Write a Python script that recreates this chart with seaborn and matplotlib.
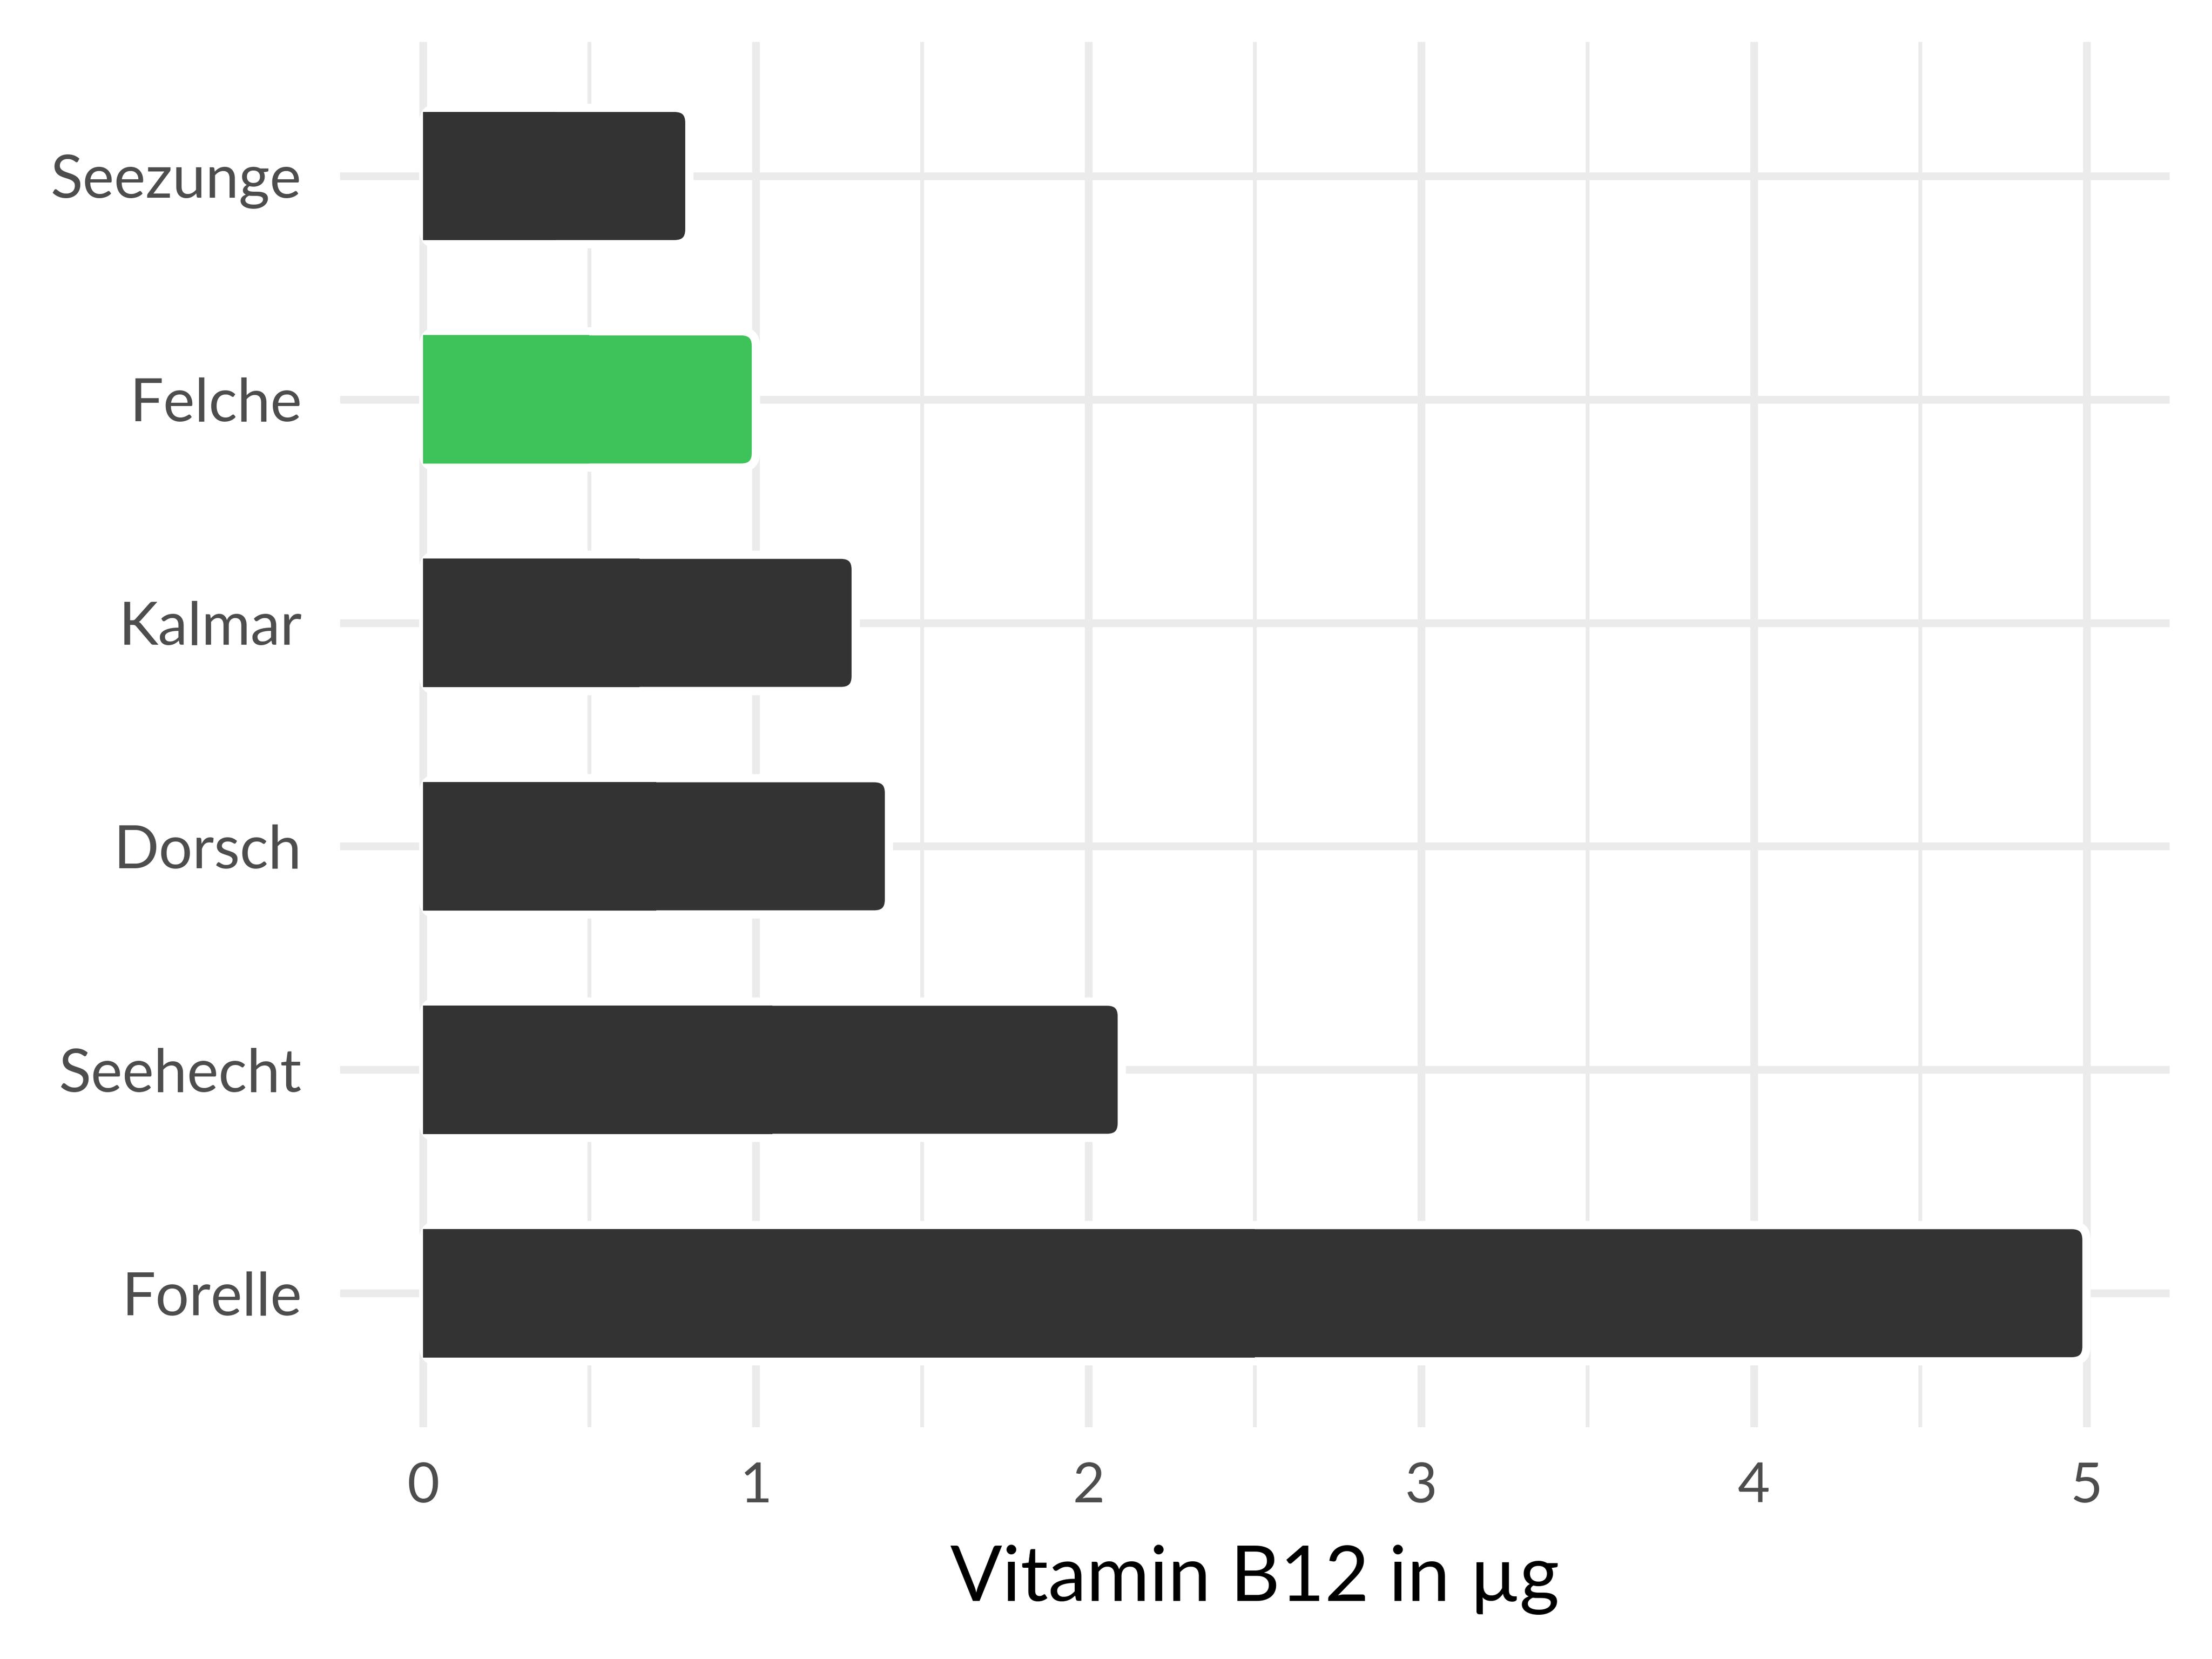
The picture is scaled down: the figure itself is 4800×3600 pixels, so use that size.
import numpy as np
import pandas as pd
import matplotlib.pyplot as plt
import seaborn as sns
from matplotlib.patches import FancyBboxPatch, Rectangle
from matplotlib.ticker import MultipleLocator

foods = ['Seezunge', 'Felche', 'Kalmar', 'Dorsch', 'Seehecht', 'Forelle']
b12 = [0.8, 1.0, 1.3, 1.4, 2.1, 5.0]
colors = ['#333333', '#3EC35A', '#333333', '#333333', '#333333', '#333333']

df = pd.DataFrame({'food': foods, 'b12': b12})

sns.set_theme(style="white")
plt.rcParams['font.family'] = ['Lato', 'DejaVu Sans']

fig = plt.figure(figsize=(16, 12), dpi=300)
ax = fig.add_axes([0.15375, 0.1397, 0.8271, 0.835])

sns.barplot(data=df, x='b12', y='food', hue='food', palette=dict(zip(foods, colors)),
            orient='h', width=0.61, saturation=1, legend=False, ax=ax, zorder=3)

# rounded right end, square left end (white outline like the original)
bars = list(ax.patches)
for p in bars:
    x0, y0, w, h = p.get_x(), p.get_y(), p.get_width(), p.get_height()
    fc = p.get_facecolor()
    p.remove()
    ax.add_patch(FancyBboxPatch((x0, y0), w, h,
                                boxstyle="round,pad=0,rounding_size=0.044",
                                mutation_aspect=1.49, fc=fc, ec='white', lw=4.3, zorder=3))
    ax.add_patch(Rectangle((x0, y0 + 0.0175), w / 2, h - 0.035, fc=fc, ec='none', zorder=3.1))

ax.set_xlim(-0.25, 5.25)
ax.set_ylim(5.6, -0.6)
ax.xaxis.set_major_locator(MultipleLocator(1))
ax.xaxis.set_minor_locator(MultipleLocator(0.5))
ax.grid(which='major', axis='x', color='#EBEBEB', lw=4, zorder=0)
ax.grid(which='minor', axis='x', color='#EBEBEB', lw=2, zorder=0)
ax.grid(which='major', axis='y', color='#EBEBEB', lw=4, zorder=0)
ax.set_axisbelow(True)
for s in ax.spines.values():
    s.set_visible(False)

ax.tick_params(axis='y', length=0, pad=20, labelsize=31, labelcolor='#4D4D4D')
ax.tick_params(axis='x', which='both', length=0, pad=18, labelsize=29, labelcolor='#4D4D4D')
ax.set_xlabel('Vitamin B12 in µg', fontsize=40, color='black', labelpad=17)
ax.set_ylabel('')

plt.savefig('out.png', dpi=300, facecolor='white')
